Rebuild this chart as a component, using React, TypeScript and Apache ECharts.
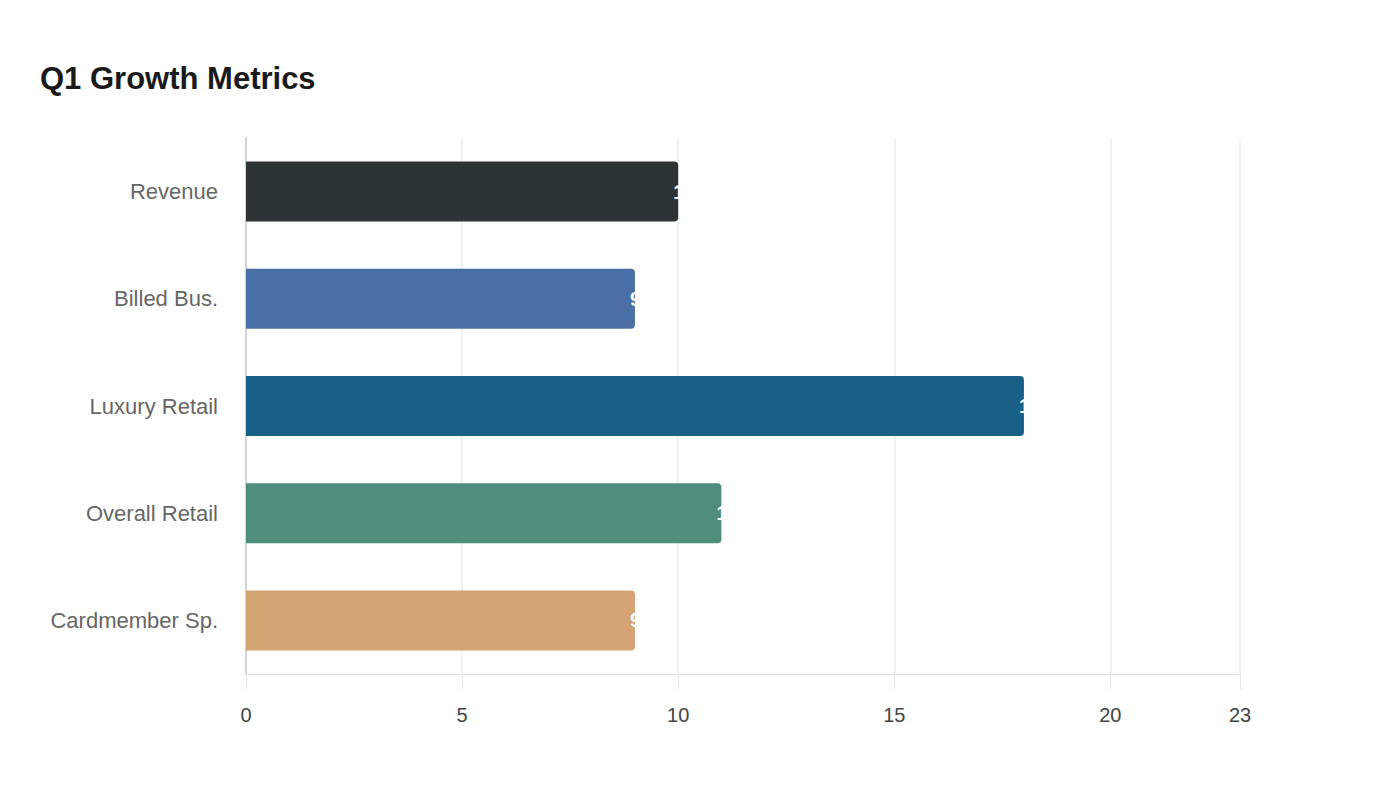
import React, { useEffect, useRef } from 'react';
import * as echarts from 'echarts';

const categories = ['Revenue', 'Billed Bus.', 'Luxury Retail', 'Overall Retail', 'Cardmember Sp.'];
const values = [10, 9, 18, 11, 9];
const barColors = ['#2d3436', '#4a6fa5', '#186086', '#4f8e7c', '#d4a373'];
const axisMax = 23;
const tickStep = 5;

const App: React.FC = () => {
  const chartRef = useRef<HTMLDivElement>(null);

  useEffect(() => {
    document.body.style.margin = '0';
    if (!chartRef.current) return;
    const chart = echarts.init(chartRef.current, undefined, { renderer: 'svg' });

    const option: echarts.EChartsOption = {
      animation: false,
      backgroundColor: '#ffffff',
      textStyle: { fontFamily: 'Liberation Sans, Arial, sans-serif' },
      title: {
        text: 'Q1 Growth Metrics',
        left: 40,
        top: 63,
        padding: 0,
        textStyle: { fontSize: 31, fontWeight: 'bold', color: '#1a1a1a' }
      },
      grid: { left: 246, right: 160, top: 138, bottom: 126 },
      xAxis: {
        type: 'value',
        min: 0,
        max: axisMax,
        interval: tickStep,
        axisLine: { show: true, lineStyle: { color: '#d6d6d6', type: 'dotted' } },
        axisTick: { show: true, length: 15, lineStyle: { color: '#e6e6e6' } },
        axisLabel: { color: '#444444', fontSize: 20, margin: 31 },
        splitLine: { show: true, lineStyle: { color: '#ececec', width: 1.5 } }
      },
      yAxis: {
        type: 'category',
        data: categories,
        inverse: true,
        axisLine: { show: true, lineStyle: { color: '#d4d4d4', width: 2 } },
        axisTick: { show: false },
        axisLabel: { color: '#666666', fontSize: 22, margin: 28 },
        splitLine: { show: false }
      },
      series: [
        {
          type: 'bar',
          data: values.map((v, i) => ({ value: v, itemStyle: { color: barColors[i] } })),
          barWidth: 60,
          itemStyle: { borderRadius: [0, 4, 4, 0] },
          label: {
            show: true,
            position: 'right',
            distance: -5,
            color: '#ffffff',
            fontWeight: 'bold',
            fontSize: 20
          }
        }
      ]
    };

    chart.setOption(option);
    return () => {
      chart.dispose();
    };
  }, []);

  return <div ref={chartRef} style={{ width: '1400px', height: '800px' }} />;
};

export default App;
